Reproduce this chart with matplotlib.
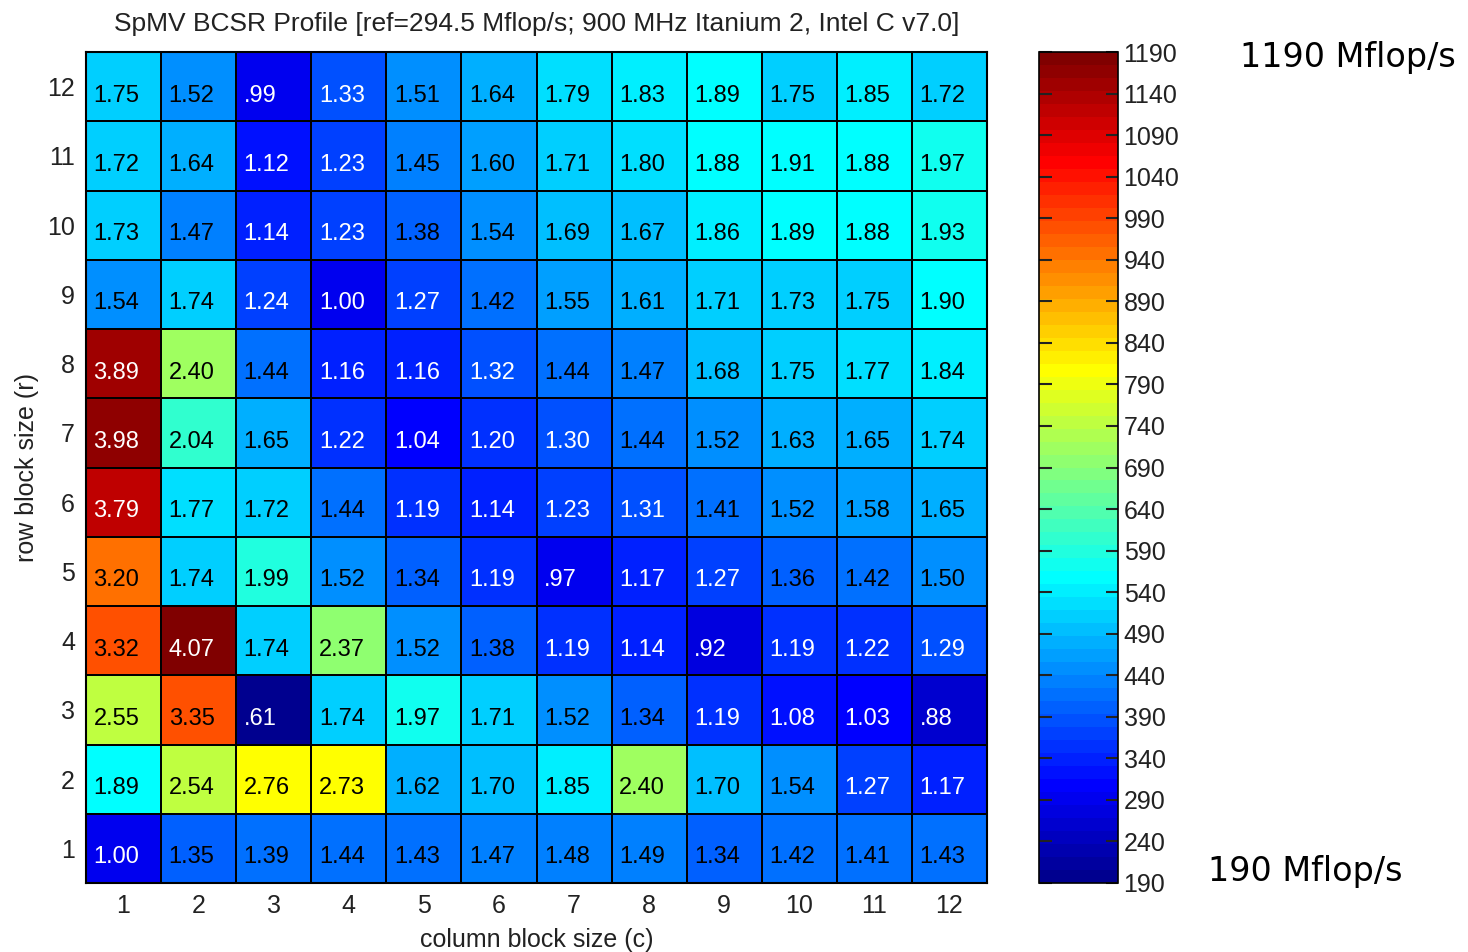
import numpy as np
import matplotlib
matplotlib.use('Agg')
from matplotlib import pyplot as plt
from matplotlib.colors import Normalize, ListedColormap

narrow = ['Liberation Sans Narrow', 'Liberation Sans', 'DejaVu Sans']

title = 'SpMV BCSR Profile [ref=294.5 Mflop/s; 900 MHz Itanium 2, Intel C v7.0]'
ref_mflops = 294.5
col_sizes = list(range(1, 13))
row_sizes = list(range(1, 13))

# speedup over 1x1, rows listed from r=1 (bottom) to r=12 (top)
r1 = [1.00, 1.35, 1.39, 1.44, 1.43, 1.47, 1.48, 1.49, 1.34, 1.42, 1.41, 1.43]
r2 = [1.89, 2.54, 2.76, 2.73, 1.62, 1.70, 1.85, 2.40, 1.70, 1.54, 1.27, 1.17]
r3 = [2.55, 3.35, 0.61, 1.74, 1.97, 1.71, 1.52, 1.34, 1.19, 1.08, 1.03, 0.88]
r4 = [3.32, 4.07, 1.74, 2.37, 1.52, 1.38, 1.19, 1.14, 0.92, 1.19, 1.22, 1.29]
r5 = [3.20, 1.74, 1.99, 1.52, 1.34, 1.19, 0.97, 1.17, 1.27, 1.36, 1.42, 1.50]
r6 = [3.79, 1.77, 1.72, 1.44, 1.19, 1.14, 1.23, 1.31, 1.41, 1.52, 1.58, 1.65]
r7 = [3.98, 2.04, 1.65, 1.22, 1.04, 1.20, 1.30, 1.44, 1.52, 1.63, 1.65, 1.74]
r8 = [3.89, 2.40, 1.44, 1.16, 1.16, 1.32, 1.44, 1.47, 1.68, 1.75, 1.77, 1.84]
r9 = [1.54, 1.74, 1.24, 1.00, 1.27, 1.42, 1.55, 1.61, 1.71, 1.73, 1.75, 1.90]
r10 = [1.73, 1.47, 1.14, 1.23, 1.38, 1.54, 1.69, 1.67, 1.86, 1.89, 1.88, 1.93]
r11 = [1.72, 1.64, 1.12, 1.23, 1.45, 1.60, 1.71, 1.80, 1.88, 1.91, 1.88, 1.97]
r12 = [1.75, 1.52, 0.99, 1.33, 1.51, 1.64, 1.79, 1.83, 1.89, 1.75, 1.85, 1.72]

cbar_min = 190
cbar_max = 1190
cbar_ticks = list(range(190, 1191, 50))

speedup = np.array([r1, r2, r3, r4, r5, r6, r7, r8, r9, r10, r11, r12])
mflops = speedup * ref_mflops


def matlab_jet(m=64):
    # same construction as matlab's jet.m
    n = int(np.ceil(m / 4))
    u = np.concatenate([np.arange(1, n + 1) / n, np.ones(n - 1),
                        np.arange(n, 0, -1) / n])
    g = int(np.ceil(n / 2)) - (m % 4 == 1) + np.arange(1, len(u) + 1)
    r = g + n
    b = g - n
    r = r[r <= m]
    g = g[g <= m]
    b = b[b >= 1]
    J = np.zeros((m, 3))
    J[r - 1, 0] = u[:len(r)]
    J[g - 1, 1] = u[:len(g)]
    J[b - 1, 2] = u[len(u) - len(b):]
    return ListedColormap(J)


cmap = matlab_jet(64)
norm = Normalize(vmin=cbar_min, vmax=cbar_max)

fig = plt.figure(figsize=(14.68, 9.52), dpi=100)
W, H = 1468, 952
ax = fig.add_axes([86 / W, 1 - 883 / H, 901 / W, 831 / H])
cax = fig.add_axes([1039 / W, 1 - 883 / H, 79 / W, 831 / H])

x_edges = np.arange(0.5, 13, 1)
y_edges = np.arange(0.5, 13, 1)
mesh = ax.pcolormesh(x_edges, y_edges, mflops, cmap=cmap, norm=norm,
                     edgecolors='black', linewidth=1.2)
ax.set_xlim(0.5, 12.5)
ax.set_ylim(0.5, 12.5)

for i, r in enumerate(row_sizes):
    for j, c in enumerate(col_sizes):
        v = speedup[i, j]
        txt = ('%.2f' % v) if v >= 1 else ('%.2f' % v)[1:]
        col = 'white' if (v < 1.335 or v > 3.5) else 'black'
        ax.text(c - 0.5 + 0.1, r - 0.13, txt, ha='left', va='center',
                color=col, fontsize=17, family=narrow)

ax.set_xticks(col_sizes)
ax.set_yticks(row_sizes)
ax.set_xticklabels([str(c) for c in col_sizes], family=narrow, fontsize=18)
ax.set_yticklabels([str(r) for r in row_sizes], family=narrow, fontsize=18)
ax.tick_params(length=0, pad=8, colors='#222222')
ax.set_xlabel('column block size (c)', family=narrow, fontsize=18, labelpad=7,
              color='#222222')
ax.set_ylabel('row block size (r)', family=narrow, fontsize=18, labelpad=6,
              color='#222222')
ax.set_title(title, family=narrow, fontsize=19, pad=15, color='#222222')
for s in ax.spines.values():
    s.set_linewidth(1.5)

cb = fig.colorbar(mesh, cax=cax, ticks=cbar_ticks)
cb.outline.set_linewidth(1.2)
cax.tick_params(direction='in', left=True, right=True, length=9, width=1.5,
                labelsize=18, pad=4, colors='#222222')
for lab in cax.get_yticklabels():
    lab.set_family(narrow)

fig.text(1240 / W, 1 - 57 / H, '%d Mflop/s' % cbar_max, ha='left',
         va='center', fontsize=24, family='DejaVu Sans')
fig.text(1208 / W, 1 - 872 / H, '%d Mflop/s' % cbar_min, ha='left',
         va='center', fontsize=24, family='DejaVu Sans')

fig.savefig('out.png', dpi=100)
